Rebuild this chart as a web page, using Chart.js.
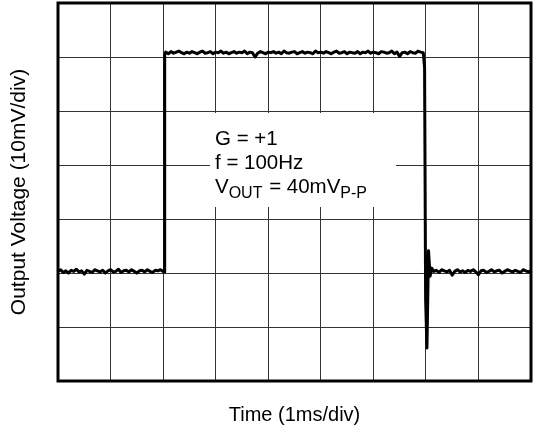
<!DOCTYPE html>
<html><head><meta charset="utf-8">
<script src="https://cdn.jsdelivr.net/npm/chart.js@4.4.0/dist/chart.umd.min.js"></script>
<style>html,body{margin:0;padding:0;background:#fff}#wrap{width:533px;height:434px;position:relative}</style>
</head><body><div id="wrap"><canvas id="c"></canvas></div>
<script>
// time axis (ms) and output voltage (mV)
const timeMs = [
  0.00,0.05,0.10,0.15,0.20,0.25,0.30,0.35,0.40,0.45,0.50,0.55,0.60,0.65,0.70,0.75,0.80,0.85,0.90,0.95,
  1.00,1.05,1.10,1.15,1.20,1.25,1.30,1.35,1.40,1.45,1.50,1.55,1.60,1.65,1.70,1.75,1.80,1.85,1.90,1.95,2.00,
  2.02,2.03,
  2.05,2.10,2.15,2.20,2.25,2.30,2.35,2.40,2.45,2.50,
  2.55,2.60,2.65,2.70,2.75,2.80,2.85,2.90,2.95,3.00,
  3.05,3.10,3.15,3.20,3.25,3.30,3.35,3.40,3.45,3.50,
  3.55,3.60,3.65,3.70,3.75,3.80,3.85,3.90,3.95,4.00,
  4.05,4.10,4.15,4.20,4.25,4.30,4.35,4.40,4.45,4.50,
  4.55,4.60,4.65,4.70,4.75,4.80,4.85,4.90,4.95,5.00,
  5.05,5.10,5.15,5.20,5.25,5.30,5.35,5.40,5.45,5.50,
  5.55,5.60,5.65,5.70,5.75,5.80,5.85,5.90,5.95,6.00,
  6.05,6.10,6.15,6.20,6.25,6.30,6.35,6.40,6.45,6.50,
  6.55,6.60,6.65,6.70,6.75,6.80,6.85,6.90,6.95,
  6.975,6.995,7.02,7.05,7.08,7.11,
  7.15,7.20,7.25,7.30,7.35,7.40,7.45,7.50,7.55,7.60,7.65,7.70,7.75,7.80,7.85,7.90,7.95,8.00,8.05,
  8.10,8.15,8.20,8.25,8.30,8.35,8.40,8.45,8.50,8.55,8.60,8.65,8.70,8.75,8.80,8.85,8.90,8.95,9.00
];
const voltageMv = [
  0.3,0.6,0.1,0.4,0.0,0.5,0.3,0.7,0.2,0.4,-0.2,0.5,0.3,0.1,0.6,0.4,0.2,0.5,0.0,0.4,
  0.6,0.2,0.3,0.7,0.1,0.4,0.5,0.2,0.6,0.3,0.0,0.4,0.5,0.2,0.6,0.3,0.1,0.5,0.4,0.6,0.3,
  0.2,40.4,
  40.9,40.6,41.0,40.7,40.9,41.1,40.8,40.6,40.9,40.7,
  41.0,40.8,40.6,40.9,41.1,40.7,40.8,41.0,40.6,40.9,
  40.8,41.1,40.7,40.9,40.6,40.8,41.0,40.7,40.9,40.8,
  41.1,40.6,40.9,40.8,40.0,40.7,41.0,40.8,40.6,40.9,
  40.8,41.0,40.7,40.9,40.6,41.1,40.8,40.7,40.9,41.0,
  40.6,40.8,41.0,40.7,40.9,40.8,40.6,41.1,40.8,40.9,
  40.7,41.0,40.8,40.6,40.9,41.1,40.7,40.8,41.0,40.6,
  40.9,40.8,40.7,41.0,40.6,40.9,40.8,41.1,40.7,40.9,
  40.8,40.6,41.0,40.9,40.7,40.8,41.1,40.6,40.9,40.1,
  40.8,40.9,40.6,41.0,40.8,40.7,41.1,40.9,40.8,
  38.0,-5.0,-13.9,4.1,-0.6,0.9,
  0.3,0.5,0.1,0.6,0.4,0.2,0.5,-0.4,0.3,0.6,0.2,0.4,0.1,0.5,0.3,0.6,0.2,-0.3,0.4,
  0.5,0.1,0.3,0.6,0.2,0.4,0.5,0.0,0.3,0.6,0.4,0.2,0.5,0.3,0.1,0.6,0.4,0.2,0.4
];
const xRange = [0, 9];      // 9 divisions of 1 ms
const yRange = [-20, 50];   // 7 divisions of 10 mV
const xStep = 1;
const yStep = 10;
const xTitle = 'Time (1ms/div)';
const yTitle = 'Output Voltage (10mV/div)';
const noteLines = [
  [['G = +1', false]],
  [['f = 100Hz', false]],
  [['V', false], ['OUT', true], [' = 40mV', false], ['P-P', true]]
];

const FONT = "'Liberation Sans', Arial, sans-serif";

const frameAndNote = {
  id: 'frameAndNote',
  afterDatasetsDraw(chart) {
    const {ctx, chartArea: a} = chart;
    ctx.save();
    ctx.fillStyle = '#fff';
    ctx.fillRect(210, 113, 186, 94);
    ctx.fillStyle = '#000';
    ctx.textBaseline = 'alphabetic';
    ctx.textAlign = 'left';
    const baselines = [145, 169, 193];
    noteLines.forEach((segs, i) => {
      let x = 215;
      segs.forEach(([txt, sub]) => {
        ctx.font = (sub ? '16px ' : '20.5px ') + FONT;
        ctx.fillText(txt, x, baselines[i] + (sub ? 5 : 0));
        x += ctx.measureText(txt).width + (sub ? 1 : 0);
      });
    });
    ctx.strokeStyle = '#000';
    ctx.lineWidth = 3;
    ctx.strokeRect(a.left, a.top, a.right - a.left, a.bottom - a.top);
    ctx.restore();
  }
};

new Chart(document.getElementById('c'), {
  type: 'line',
  data: {
    datasets: [{
      data: timeMs.map((t, i) => ({x: t, y: voltageMv[i]})),
      borderColor: '#000',
      borderWidth: 3,
      pointRadius: 0,
      tension: 0,
      borderJoinStyle: 'round',
      borderCapStyle: 'round',
      fill: false
    }]
  },
  options: {
    responsive: true,
    maintainAspectRatio: false,
    animation: false,
    devicePixelRatio: 1,
    layout: {padding: {top: 3, right: 2, left: 0, bottom: 0}},
    plugins: {legend: {display: false}, tooltip: {enabled: false}},
    scales: {
      x: {
        type: 'linear', min: xRange[0], max: xRange[1],
        ticks: {display: false, stepSize: xStep},
        grid: {color: '#333', lineWidth: 1, drawTicks: false},
        border: {display: false},
        title: {display: true, text: xTitle, color: '#000', font: {family: FONT, size: 20}, padding: {top: 0, bottom: 7}},
        afterFit(s) { s.height = 53; }
      },
      y: {
        type: 'linear', min: yRange[0], max: yRange[1],
        ticks: {display: false, stepSize: yStep},
        grid: {color: '#333', lineWidth: 1, drawTicks: false},
        border: {display: false},
        title: {display: true, text: yTitle, color: '#000', font: {family: FONT, size: 21}, padding: {top: 7, bottom: 0}},
        afterFit(s) { s.width = 58; }
      }
    }
  },
  plugins: [frameAndNote]
});
</script>
</body></html>
